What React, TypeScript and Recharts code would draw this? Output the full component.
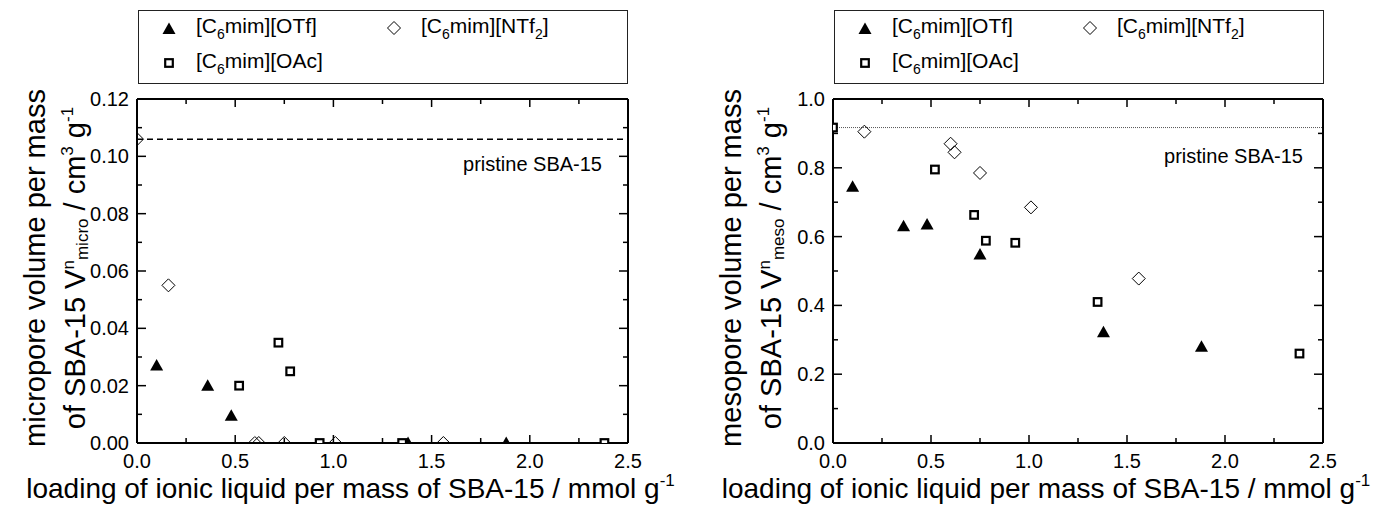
import React from "react";
import { ScatterChart, Scatter, XAxis, YAxis, ReferenceLine, Legend } from "recharts";

const FONT = '"Liberation Sans", Arial, Helvetica, sans-serif';

// loading of ionic liquid per mass of SBA-15 (mmol/g) and pore volumes (cm3/g)
const otfMicroX = [0.1, 0.36, 0.48, 1.38, 1.88];
const otfMicroY = [0.027, 0.02, 0.0095, 0, 0];
const ntf2MicroX = [0, 0.16, 0.6, 0.62, 0.75, 1.01, 1.56];
const ntf2MicroY = [0.106, 0.055, 0, 0, 0, 0, 0];
const oacMicroX = [0.52, 0.72, 0.78, 0.93, 1.35, 2.38];
const oacMicroY = [0.02, 0.035, 0.025, 0, 0, 0];

const otfMesoX = [0.1, 0.36, 0.48, 0.75, 1.38, 1.88];
const otfMesoY = [0.745, 0.63, 0.635, 0.548, 0.322, 0.28];
const ntf2MesoX = [0.16, 0.6, 0.62, 0.75, 1.01, 1.56];
const ntf2MesoY = [0.905, 0.87, 0.845, 0.785, 0.685, 0.478];
const oacMesoX = [0, 0.52, 0.72, 0.78, 0.93, 1.35, 2.38];
const oacMesoY = [0.917, 0.795, 0.663, 0.588, 0.582, 0.41, 0.26];

const pristineMicro = 0.106;
const pristineMeso = 0.917;

const xTicks = [0, 0.25, 0.5, 0.75, 1, 1.25, 1.5, 1.75, 2, 2.25, 2.5];
const microTicks = [0, 0.01, 0.02, 0.03, 0.04, 0.05, 0.06, 0.07, 0.08, 0.09, 0.1, 0.11, 0.12];
const mesoTicks = [0, 0.1, 0.2, 0.3, 0.4, 0.5, 0.6, 0.7, 0.8, 0.9, 1.0];

const toPoints = (xs: number[], ys: number[]) => xs.map((x, i) => ({ x, y: ys[i] }));

const isMajor = (v: number, step: number) => Math.abs(v / step - Math.round(v / step)) < 1e-6;

// markers
const Triangle = (p: any) => (
  <path d={`M${p.cx},${p.cy - 6.5}L${p.cx + 6.5},${p.cy + 5}L${p.cx - 6.5},${p.cy + 5}Z`} fill="#000" />
);
const Diamond = (p: any) => (
  <path
    d={`M${p.cx},${p.cy - 6.5}L${p.cx + 6.5},${p.cy}L${p.cx},${p.cy + 6.5}L${p.cx - 6.5},${p.cy}Z`}
    fill="none"
    stroke="#000"
    strokeWidth={1}
  />
);
const Square = (p: any) => (
  <rect x={p.cx - 3.8} y={p.cy - 3.8} width={7.6} height={7.6} fill="#fff" stroke="#000" strokeWidth={2.2} />
);

const Sub = ({ children }: { children: React.ReactNode }) => (
  <span style={{ fontSize: 14, verticalAlign: -6 }}>{children}</span>
);

function LegendBox() {
  const marker = (shape: string) => (
    <svg width={16} height={16} style={{ position: "absolute", left: -8, top: -8 }}>
      {shape === "t" && <Triangle cx={8} cy={9} />}
      {shape === "d" && <Diamond cx={8} cy={8} />}
      {shape === "s" && <Square cx={8} cy={8} />}
    </svg>
  );
  const item = (shape: string, mx: number, my: number, label: React.ReactNode) => (
    <>
      <div style={{ position: "absolute", left: mx, top: my }}>{marker(shape)}</div>
      <div style={{ position: "absolute", left: mx + 27, top: my - 14, whiteSpace: "nowrap" }}>{label}</div>
    </>
  );
  return (
    <div
      style={{
        position: "relative",
        width: 490,
        height: 74,
        border: "1px solid #222",
        boxSizing: "border-box",
        fontFamily: FONT,
        fontSize: 21,
        lineHeight: "24px",
        background: "#fff",
      }}
    >
      {item("t", 30, 17, <>[C<Sub>6</Sub>mim][OTf]</>)}
      {item("d", 255, 17, <>[C<Sub>6</Sub>mim][NTf<Sub>2</Sub>]</>)}
      {item("s", 30, 52, <>[C<Sub>6</Sub>mim][OAc]</>)}
    </div>
  );
}

const BottomTick = (p: any) => {
  const major = isMajor(p.payload.value, 0.5);
  return (
    <g>
      <line x1={p.x} y1={p.y} x2={p.x} y2={p.y - (major ? 8 : 5)} stroke="#000" strokeWidth={1.5} />
      {major && (
        <text x={p.x} y={p.y + 25} textAnchor="middle" fontSize={20} fontFamily={FONT} fill="#000">
          {p.payload.value.toFixed(1)}
        </text>
      )}
    </g>
  );
};

const TopTick = (p: any) => {
  const major = isMajor(p.payload.value, 0.5);
  return <line x1={p.x} y1={p.y} x2={p.x} y2={p.y + (major ? 8 : 5)} stroke="#000" strokeWidth={1.5} />;
};

const makeLeftTick = (step: number, digits: number) => (p: any) => {
  const major = isMajor(p.payload.value, step);
  return (
    <g>
      <line x1={p.x} y1={p.y} x2={p.x + (major ? 9 : 5)} y2={p.y} stroke="#000" strokeWidth={1.5} />
      {major && (
        <text x={p.x - 8} y={p.y + 7} textAnchor="end" fontSize={20} fontFamily={FONT} fill="#000">
          {p.payload.value.toFixed(digits)}
        </text>
      )}
    </g>
  );
};

const makeRightTick = (step: number) => (p: any) => {
  const major = isMajor(p.payload.value, step);
  return <line x1={p.x} y1={p.y} x2={p.x - (major ? 9 : 5)} y2={p.y} stroke="#000" strokeWidth={1.5} />;
};

const XTitle = (p: any) => {
  const vb = p.viewBox;
  return (
    <text x={vb.x + vb.width / 2 - 32} y={vb.y + 55} textAnchor="middle" fontSize={28} fontFamily={FONT} fill="#000">
      loading of ionic liquid per mass of SBA-15 / mmol g
      <tspan dy={-12} fontSize={17}>-1</tspan>
    </text>
  );
};

const YTitle = (p: any) => {
  const vb = p.viewBox;
  const cy = vb.y + vb.height / 2 - 3;
  return (
    <g fontFamily={FONT} fill="#000">
      <text transform={`translate(45,${cy}) rotate(-90)`} textAnchor="middle" fontSize={29}>
        {p.line1}
      </text>
      <text transform={`translate(85,${cy}) rotate(-90)`} textAnchor="middle" fontSize={29}>
        of SBA-15 V
        <tspan dy={-11} fontSize={17}>n</tspan>
        <tspan dy={14} fontSize={17}>{p.sub}</tspan>
        <tspan dy={-3}> / cm</tspan>
        <tspan dy={-12} fontSize={17}>3</tspan>
        <tspan dy={12}> g</tspan>
        <tspan dy={-12} fontSize={17}>-1</tspan>
      </text>
    </g>
  );
};

const PristineLabel = (p: any) => {
  const vb = p.viewBox;
  return (
    <text x={vb.x + vb.width + p.offX} y={vb.y + p.offY} textAnchor="end" fontSize={20} fontFamily={FONT} fill="#000">
      pristine SBA-15
    </text>
  );
};

function Panel(props: any) {
  const { width, rightMargin, yDomain, yTicks, yStep, yDigits, line1, sub, pristine, refStyle, labelOff, otf, ntf2, oac } =
    props;
  // axes are 1px thick so that recharts draws them; margins compensate
  return (
    <ScatterChart width={width} height={510} margin={{ top: 98, right: rightMargin - 1, bottom: 66, left: 136 }}>
      <XAxis
        type="number"
        dataKey="x"
        domain={[0, 2.5]}
        ticks={xTicks}
        interval={0}
        allowDataOverflow
        height={1}
        tickSize={0}
        tickMargin={0}
        tick={BottomTick}
        axisLine={{ stroke: "#000", strokeWidth: 2 }}
        label={<XTitle />}
      />
      <XAxis
        xAxisId="top"
        orientation="top"
        type="number"
        dataKey="x"
        domain={[0, 2.5]}
        ticks={xTicks}
        interval={0}
        allowDataOverflow
        height={1}
        tickSize={0}
        tickMargin={0}
        tick={TopTick}
        axisLine={{ stroke: "#000", strokeWidth: 2 }}
      />
      <YAxis
        type="number"
        dataKey="y"
        domain={yDomain}
        ticks={yTicks}
        interval={0}
        allowDataOverflow
        width={1}
        tickSize={0}
        tickMargin={0}
        tick={makeLeftTick(yStep, yDigits)}
        axisLine={{ stroke: "#000", strokeWidth: 2 }}
        label={<YTitle line1={line1} sub={sub} />}
      />
      <YAxis
        yAxisId="right"
        orientation="right"
        type="number"
        dataKey="y"
        domain={yDomain}
        ticks={yTicks}
        interval={0}
        allowDataOverflow
        width={1}
        tickSize={0}
        tickMargin={0}
        tick={makeRightTick(yStep)}
        axisLine={{ stroke: "#000", strokeWidth: 2 }}
      />
      <ReferenceLine
        y={pristine}
        {...refStyle}
        label={<PristineLabel offX={labelOff[0]} offY={labelOff[1]} />}
      />
      <Scatter name="[C6mim][OTf]" data={otf} shape={Triangle} isAnimationActive={false} />
      <Scatter name="[C6mim][NTf2]" data={ntf2} shape={Diamond} isAnimationActive={false} />
      <Scatter name="[C6mim][OAc]" data={oac} shape={Square} isAnimationActive={false} />
      <Legend
        layout="horizontal"
        verticalAlign="middle"
        align="center"
        wrapperStyle={{ top: 10, left: 138, width: 490, height: 74 }}
        content={() => <LegendBox />}
      />
    </ScatterChart>
  );
}

export default function App() {
  return (
    <div style={{ position: "absolute", left: 0, top: 0, width: 1375, height: 510, background: "#fff", overflow: "hidden" }}>
      <div style={{ position: "absolute", left: 0, top: 0 }}>
        <Panel
          width={696}
          rightMargin={68}
          yDomain={[0, 0.12]}
          yTicks={microTicks}
          yStep={0.02}
          yDigits={2}
          line1="micropore volume per mass"
          sub="micro"
          pristine={pristineMicro}
          refStyle={{ stroke: "#000", strokeWidth: 1.5, strokeDasharray: "6 4" }}
          labelOff={[-26, 32]}
          otf={toPoints(otfMicroX, otfMicroY)}
          ntf2={toPoints(ntf2MicroX, ntf2MicroY)}
          oac={toPoints(oacMicroX, oacMicroY)}
        />
      </div>
      <div style={{ position: "absolute", left: 696, top: 0 }}>
        <Panel
          width={679}
          rightMargin={52}
          yDomain={[0, 1]}
          yTicks={mesoTicks}
          yStep={0.2}
          yDigits={1}
          line1="mesopore volume per mass"
          sub="meso"
          pristine={pristineMeso}
          refStyle={{ stroke: "#555", strokeWidth: 1, strokeDasharray: "1 1" }}
          labelOff={[-20, 35]}
          otf={toPoints(otfMesoX, otfMesoY)}
          ntf2={toPoints(ntf2MesoX, ntf2MesoY)}
          oac={toPoints(oacMesoX, oacMesoY)}
        />
      </div>
    </div>
  );
}
